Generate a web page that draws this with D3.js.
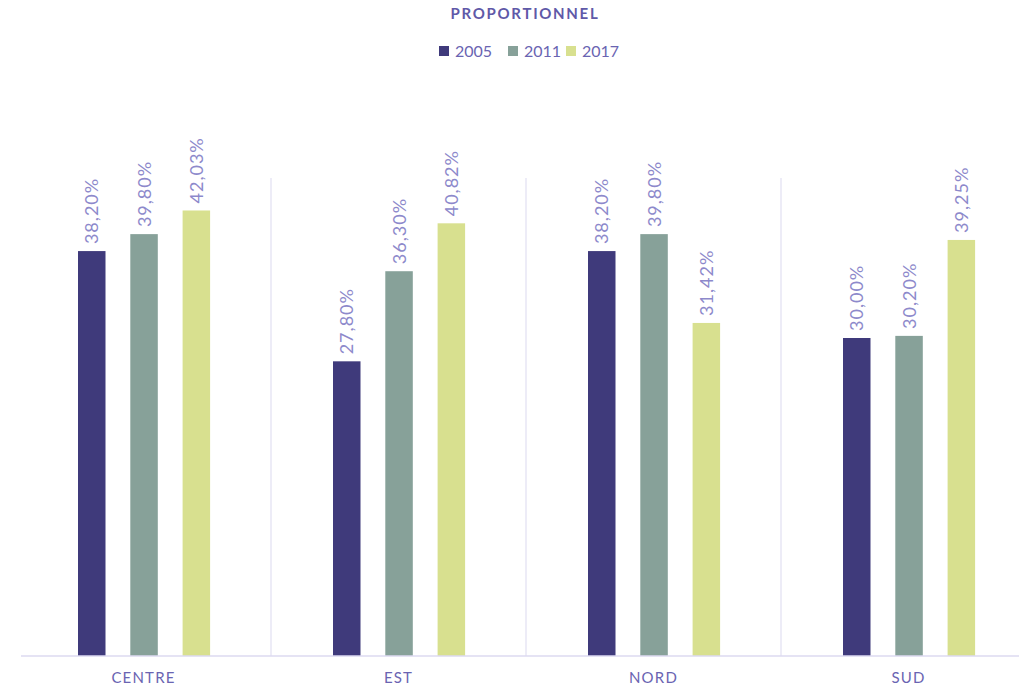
<!DOCTYPE html>
<html>
<head>
<meta charset="utf-8">
<title>Proportionnel</title>
<script src="https://cdn.jsdelivr.net/npm/d3@7"></script>
<style>
body { margin:0; background:#fff; font-family:Lato, "Open Sans", sans-serif; }
</style>
</head>
<body>
<svg id="chart" width="1019" height="693"></svg>
<script>
// --- data ---
var categories = ["CENTRE", "EST", "NORD", "SUD"]
var years = ["2005", "2011", "2017"]
var v2005 = [38.20, 27.80, 38.20, 30.00]
var v2011 = [39.80, 36.30, 39.80, 30.20]
var v2017 = [42.03, 40.82, 31.42, 39.25]
var colors = ["#3f3a7b", "#87a199", "#d8e08f"]

var series = [v2005, v2011, v2017]

var svg = d3.select("#chart")

// band width 255, last band runs off the right edge like the original
var x = d3.scaleBand()
  .domain(categories)
  .range([16, 16 + 255 * 4])

// bar 27.5 wide, step 52.3
var xInner = d3.scaleBand()
  .domain(years)
  .range([62, 62 + 2 * 52.3 + 27.5])
  .paddingInner(24.8 / 52.3)

var y = d3.scaleLinear()
  .domain([0, 45])
  .range([656, 179])

// separators between categories
svg.append("g")
  .selectAll("line")
  .data(categories.slice(1))
  .join("line")
  .attr("x1", function(d) { return x(d) })
  .attr("x2", function(d) { return x(d) })
  .attr("y1", y(45) - 1)
  .attr("y2", y(0))
  .attr("stroke", "#e4e2f3")
  .attr("stroke-width", 1.3)

// bars + labels
years.forEach(function(yr, s) {
  var g = svg.append("g")
  g.selectAll("rect")
    .data(series[s])
    .join("rect")
    .attr("x", function(d, i) { return x(categories[i]) + xInner(yr) })
    .attr("y", function(d) { return y(d) })
    .attr("width", xInner.bandwidth())
    .attr("height", function(d) { return y(0) - y(d) })
    .attr("fill", colors[s])

  g.selectAll("text")
    .data(series[s])
    .join("text")
    .attr("transform", function(d, i) {
      var cx = x(categories[i]) + xInner(yr) + xInner.bandwidth() / 2
      return "translate(" + (cx + 6.5) + "," + (y(d) - 7) + ")rotate(-90)"
    })
    .attr("font-size", "18px")
    .attr("letter-spacing", "1px")
    .attr("fill", "#8d89cb")
    .text(function(d) { return d.toFixed(2).replace(".", ",") + "%" })
})

// x axis
var xAxis = svg.append("g")
  .attr("transform", "translate(0," + y(0) + ")")
  .call(d3.axisBottom(x).tickSize(0).tickPadding(16))
xAxis.select(".domain").remove()
xAxis.append("line")
  .attr("x1", 21).attr("x2", 1019)
  .attr("stroke", "#dcdaf0").attr("stroke-width", 1.5)
xAxis.selectAll(".tick text")
  .attr("font-family", "Lato, sans-serif")
  .attr("font-size", "15px")
  .attr("letter-spacing", "1.2px")
  .attr("fill", "#6a64b2")

// title
svg.append("text")
  .attr("x", 525).attr("y", 19)
  .attr("text-anchor", "middle")
  .attr("font-size", "15px")
  .attr("font-weight", "bold")
  .attr("letter-spacing", "1.7px")
  .attr("fill", "#5f59a8")
  .text("PROPORTIONNEL")

// legend
var legendX = [439, 508, 566]
var legend = svg.append("g")
years.forEach(function(yr, s) {
  legend.append("rect")
    .attr("x", legendX[s]).attr("y", 46)
    .attr("width", 10).attr("height", 10)
    .attr("fill", colors[s])
  legend.append("text")
    .attr("x", legendX[s] + 16).attr("y", 57)
    .attr("font-size", "16px")
    .attr("fill", "#6a64b2")
    .text(yr)
})
</script>
</body>
</html>
